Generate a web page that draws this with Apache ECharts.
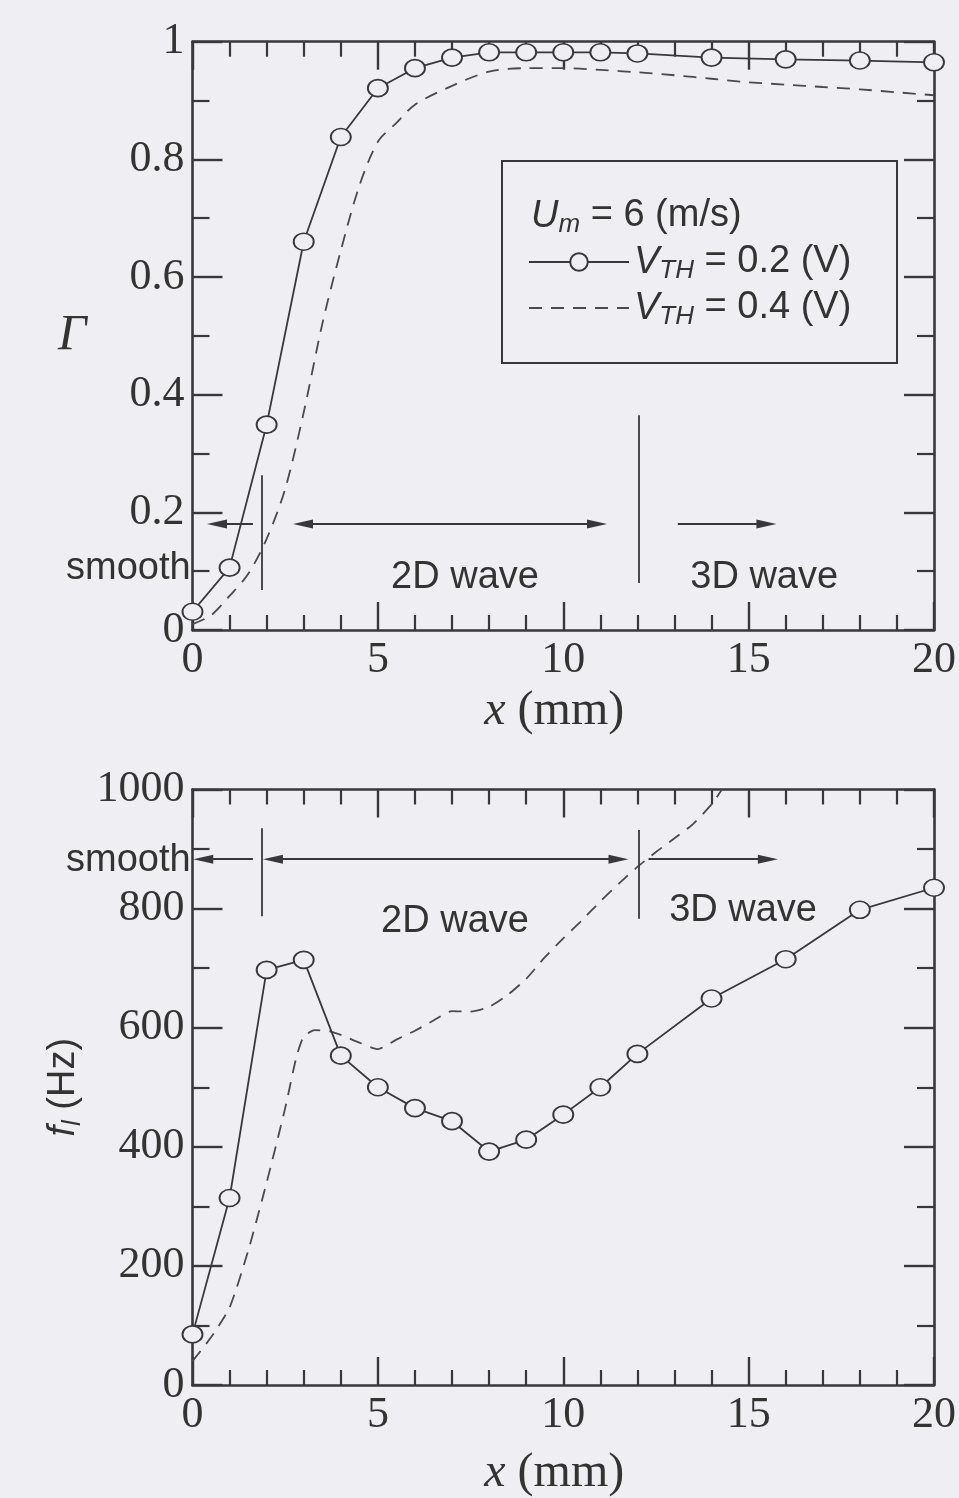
<!DOCTYPE html>
<html>
<head>
<meta charset="utf-8">
<script src="https://cdn.jsdelivr.net/npm/echarts@6/dist/echarts.min.js"></script>
<style>
  html, body { margin: 0; padding: 0; background: #efeef2; }
  #chart { width: 959px; height: 1498px; }
</style>
</head>
<body>
<div id="chart"></div>
<script>
// ---- Intermittency factor Γ versus streamwise distance x (mm) ----
const gammaX_02 = [0, 1, 2, 3, 4, 5, 6, 7, 8, 9, 10, 11, 12, 14, 16, 18, 20];
const gamma_02  = [0.031, 0.106, 0.349, 0.660, 0.838, 0.921, 0.955, 0.973, 0.982, 0.982, 0.982, 0.982, 0.980, 0.973, 0.970, 0.968, 0.965];
const gammaX_04 = [0, 0.5, 1, 1.5, 2, 2.5, 3, 3.5, 4, 4.5, 5, 5.5, 6, 7, 8, 9, 10, 11, 12, 13, 14, 15, 16, 17, 18, 19, 20];
const gamma_04  = [0.01, 0.025, 0.058, 0.095, 0.155, 0.24, 0.37, 0.52, 0.645, 0.755, 0.83, 0.862, 0.893, 0.925, 0.949, 0.955, 0.955, 0.952, 0.948, 0.943, 0.937, 0.931, 0.927, 0.923, 0.919, 0.914, 0.909];

// ---- Wave frequency f_l (Hz) versus x (mm) ----
const freqX_02 = [0, 1, 2, 3, 4, 5, 6, 7, 8, 9, 10, 11, 12, 14, 16, 18, 20];
const freq_02  = [85, 314, 697, 714, 553, 500, 465, 443, 392, 412, 454, 500, 556, 649, 715, 798, 835];
const freqX_04 = [0, 0.5, 1, 1.5, 2, 2.5, 2.8, 3, 3.3, 3.7, 4, 4.5, 5, 5.5, 6, 6.5, 7, 7.5, 8, 8.5, 9, 9.5, 10, 10.5, 11, 11.5, 12, 12.5, 13, 13.5, 14, 14.28];
const freq_04  = [40, 80, 130, 225, 340, 465, 550, 585, 596, 594, 588, 575, 564, 580, 595, 612, 628, 627, 635, 655, 682, 718, 750, 780, 812, 842, 870, 895, 918, 942, 975, 1000];

// Flow regime boundaries along x (mm): smooth | 2D wave | 3D wave
const regimeEdges = [1.86, 12.03];
const regimeNames = ['smooth', '2D wave', '3D wave'];

// Axis tick labels
const xTicks = [0, 5, 10, 15, 20];
const gammaTicks = [0, 0.2, 0.4, 0.6, 0.8, 1];
const freqTicks = [0, 200, 400, 600, 800, 1000];

const zip = (xs, ys) => xs.map((x, i) => [x, ys[i]]);

const INK = '#38383c';
const BG = '#efeef2';
const SERIF = 'Liberation Serif';
const SANS = 'Liberation Sans';

const chart = echarts.init(document.getElementById('chart'));

function xAxes(grid, nameGap) {
  const base = {
    type: 'value', gridIndex: grid,
    min: xTicks[0], max: xTicks[xTicks.length - 1], interval: xTicks[1] - xTicks[0],
    axisLine: { onZero: false, lineStyle: { color: INK, width: 2.6 } },
    axisTick: { inside: true, length: 28, lineStyle: { color: INK, width: 2.4 } },
    minorTick: { show: true, splitNumber: 5, length: 15, lineStyle: { color: INK, width: 2.2 } },
    splitLine: { show: false }, minorSplitLine: { show: false }
  };
  return [
    Object.assign({}, base, {
      position: 'bottom',
      axisLabel: { fontFamily: SERIF, fontSize: 44, color: '#333', margin: 8, formatter: v => String(v) },
      name: '{i|x} (mm)', nameLocation: 'middle', nameGap: nameGap,
      nameTextStyle: {
        fontFamily: SERIF, fontSize: 48, color: '#333', padding: [0, 18, 0, 0],
        rich: { i: { fontFamily: SERIF, fontStyle: 'italic', fontSize: 48, color: '#333' } }
      }
    }),
    Object.assign({}, base, { position: 'top', axisLabel: { show: false } })
  ];
}

function yAxes(grid, ticks, minorSplit, nameCfg) {
  const base = {
    type: 'value', gridIndex: grid,
    min: ticks[0], max: ticks[ticks.length - 1], interval: ticks[1] - ticks[0],
    axisLine: { onZero: false, lineStyle: { color: INK, width: 2.6 } },
    axisTick: { inside: true, length: 30, lineStyle: { color: INK, width: 2.4 } },
    minorTick: { show: true, splitNumber: minorSplit, length: 17, lineStyle: { color: INK, width: 2.2 } },
    splitLine: { show: false }, minorSplitLine: { show: false }
  };
  return [
    Object.assign({}, base, {
      position: 'left',
      axisLabel: { fontFamily: SERIF, fontSize: 44, color: '#333', margin: 8, formatter: v => String(v) }
    }, nameCfg),
    Object.assign({}, base, { position: 'right', axisLabel: { show: false } })
  ];
}

function pointer(from, to, y) {
  return [{ coord: [from, y], symbol: 'none' },
          { coord: [to, y], symbol: 'triangle', symbolSize: [9, 20] }];
}
function bothWays(a, b, y) {
  return [{ coord: [a, y], symbol: 'triangle', symbolSize: [9, 20] },
          { coord: [b, y], symbol: 'triangle', symbolSize: [9, 20] }];
}
function divider(x, y0, y1) {
  return [{ coord: [x, y0], symbol: 'none' }, { coord: [x, y1], symbol: 'none' }];
}

const regimeLineStyle = { color: INK, width: 1.8, type: 'solid' };

const solidStyle = {
  type: 'line', symbol: 'circle', symbolSize: [20, 17], z: 4,
  lineStyle: { color: INK, width: 1.8 },
  itemStyle: { color: BG, borderColor: INK, borderWidth: 1.8 }
};
const dashStyle = {
  type: 'line', symbol: 'none', z: 3,
  lineStyle: { color: '#4a4a4e', width: 1.8, type: [13, 9] },
  itemStyle: { color: '#4a4a4e' }
};

const option = {
  backgroundColor: BG,
  animation: false,
  grid: [
    { left: 192.5, top: 41.7, width: 744, height: 588.3 },
    { left: 192.5, top: 789.5, width: 743, height: 596 }
  ],
  xAxis: [...xAxes(0, 57), ...xAxes(1, 64)],
  yAxis: [
    ...yAxes(0, gammaTicks, 2, {
      name: 'Γ', nameLocation: 'middle', nameRotate: 0, nameGap: 106,
      nameTextStyle: { fontFamily: SERIF, fontStyle: 'italic', fontSize: 50, color: '#333' }
    }),
    ...yAxes(1, freqTicks, 2, {
      name: '{f|f}{s|l}{n| (Hz)}', nameLocation: 'middle', nameGap: 92,
      nameTextStyle: {
        color: '#333',
        rich: {
          f: { fontFamily: SANS, fontStyle: 'italic', fontSize: 38, color: '#333', lineHeight: 44 },
          s: { fontFamily: SANS, fontStyle: 'italic', fontSize: 26, color: '#333', lineHeight: 20, verticalAlign: 'bottom' },
          n: { fontFamily: SANS, fontSize: 38, color: '#333', lineHeight: 44 }
        }
      }
    })
  ],
  legend: {
    orient: 'vertical', left: 528, top: 243, padding: 0, itemGap: 5,
    itemWidth: 100, itemHeight: 22, selectedMode: false,
    data: [
      { name: 'VTH 0.2' },
      { name: 'VTH 0.4', itemStyle: { color: 'rgba(0,0,0,0)', borderWidth: 0, opacity: 0 } }
    ],
    formatter: name => name === 'VTH 0.2' ? '{v|V}{s|TH}{n| = 0.2 (V)}' : '{v|V}{s|TH}{n| = 0.4 (V)}',
    textStyle: {
      rich: {
        v: { fontFamily: SANS, fontStyle: 'italic', fontSize: 38, color: '#333', lineHeight: 44 },
        s: { fontFamily: SANS, fontStyle: 'italic', fontSize: 26, color: '#333', lineHeight: 20, verticalAlign: 'bottom' },
        n: { fontFamily: SANS, fontSize: 38, color: '#333', lineHeight: 44 }
      }
    }
  },
  series: [
    Object.assign({}, solidStyle, {
      name: 'VTH 0.2', xAxisIndex: 0, yAxisIndex: 0, data: zip(gammaX_02, gamma_02),
      markLine: {
        silent: true, label: { show: false }, lineStyle: regimeLineStyle, symbol: ['none', 'none'],
        data: [
          divider(regimeEdges[0], 0.068, 0.263),
          divider(regimeEdges[1], 0.080, 0.365),
          pointer(1.63, 0.66, 0.18),
          bothWays(2.98, 10.91, 0.18),
          pointer(13.09, 15.48, 0.18)
        ]
      }
    }),
    Object.assign({}, dashStyle, {
      name: 'VTH 0.4', xAxisIndex: 0, yAxisIndex: 0, smooth: 0.3, data: zip(gammaX_04, gamma_04)
    }),
    Object.assign({}, solidStyle, {
      name: 'VTH 0.2', xAxisIndex: 2, yAxisIndex: 2, data: zip(freqX_02, freq_02),
      markLine: {
        silent: true, label: { show: false }, lineStyle: regimeLineStyle, symbol: ['none', 'none'],
        data: [
          divider(regimeEdges[0], 787, 935),
          divider(regimeEdges[1], 783, 932),
          pointer(1.63, 0.29, 883),
          bothWays(2.17, 11.49, 883),
          pointer(12.3, 15.52, 883)
        ]
      }
    }),
    Object.assign({}, dashStyle, {
      name: 'VTH 0.4', xAxisIndex: 2, yAxisIndex: 2, smooth: 0.2, data: zip(freqX_04, freq_04)
    })
  ]
};

chart.setOption(option);

// Regime captions, anchored in data coordinates of each panel
const captions = [
  { grid: 0, text: regimeNames[0], at: [-1.73, 0.105] },
  { grid: 0, text: regimeNames[1], at: [7.35, 0.09] },
  { grid: 0, text: regimeNames[2], at: [15.42, 0.09] },
  { grid: 1, text: regimeNames[0], at: [-1.73, 880] },
  { grid: 1, text: regimeNames[1], at: [7.08, 779] },
  { grid: 1, text: regimeNames[2], at: [14.85, 796] }
];

const graphics = captions.map(c => {
  const p = chart.convertToPixel({ gridIndex: c.grid }, c.at);
  return {
    type: 'text', x: p[0], y: p[1], z: 10,
    style: { text: c.text, fontFamily: SANS, fontSize: 38, fill: '#333', align: 'center', verticalAlign: 'middle' }
  };
});

// Key frame and flow-condition heading
graphics.push({
  type: 'rect', z: 1,
  shape: { x: 502, y: 161, width: 395, height: 202 },
  style: { fill: 'none', stroke: INK, lineWidth: 2 }
});
graphics.push({
  type: 'text', x: 531, y: 216, z: 10,
  style: {
    text: '{u|U}{m|m}{n| = 6 (m/s)}', align: 'left', verticalAlign: 'middle',
    rich: {
      u: { fontFamily: SANS, fontStyle: 'italic', fontSize: 38, fill: '#333', lineHeight: 44 },
      m: { fontFamily: SANS, fontStyle: 'italic', fontSize: 26, fill: '#333', lineHeight: 20, verticalAlign: 'bottom' },
      n: { fontFamily: SANS, fontSize: 38, fill: '#333', lineHeight: 44 }
    }
  }
});

chart.setOption({ graphic: graphics });
</script>
</body>
</html>
